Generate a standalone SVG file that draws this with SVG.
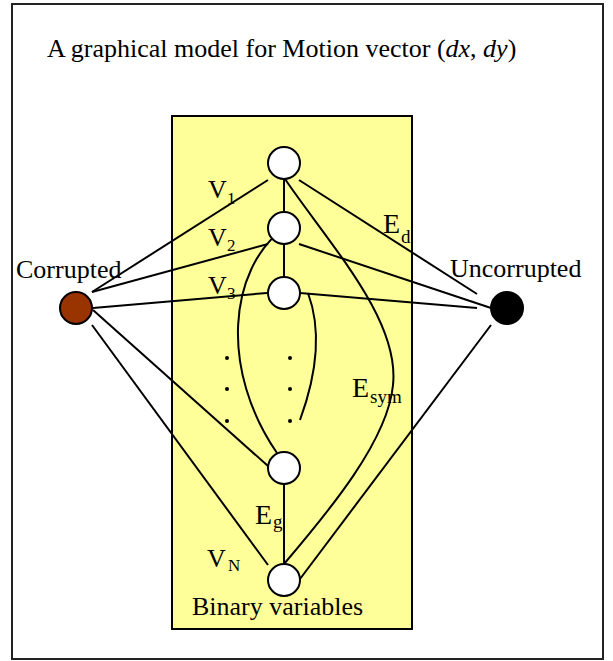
<svg xmlns="http://www.w3.org/2000/svg" width="613" height="661" viewBox="0 0 613 661">
<style>
text{font-family:"Liberation Serif","Times New Roman",serif;fill:#000;}
.t{font-size:26px;}
.s{font-size:17px;}
.e{stroke:#000;stroke-width:2;fill:none;}
.v{fill:#fff;stroke:#000;stroke-width:2;}
</style>
<rect x="12" y="4" width="591" height="655" fill="#fff" stroke="#222" stroke-width="2"/>
<text class="t" x="47" y="57">A graphical model for Motion vector (<tspan font-style="italic">dx</tspan>, <tspan font-style="italic">dy</tspan>)</text>
<rect x="172" y="116" width="240" height="513" fill="#FFFF99" stroke="#000" stroke-width="2"/>
<g id="connectors" class="e">
<line x1="92" y1="292" x2="268" y2="180"/>
<line x1="92" y1="292" x2="268" y2="244"/>
<line x1="93" y1="308" x2="267" y2="293"/>
<line x1="93" y1="310" x2="268" y2="466"/>
<line x1="92" y1="325" x2="268" y2="565"/>
<line x1="299" y1="180" x2="477" y2="294"/>
<line x1="299" y1="244" x2="491" y2="308"/>
<line x1="300" y1="293" x2="477" y2="308"/>
<line x1="491" y1="325" x2="300" y2="579"/>
<line x1="284" y1="179" x2="284" y2="212"/>
<line x1="284" y1="244" x2="284" y2="277"/>
<line x1="284" y1="484" x2="284" y2="564"/>
<path d="M284,228 C228,270 220,370 277,453"/>
<path d="M308,293 C318,320 322,360 300,420"/>
<path d="M285,179 C330,245 400,320 393,385 C388,440 330,510 284,564"/>
</g>
<g id="dots" fill="#000">
<circle cx="227" cy="358" r="2"/><circle cx="227" cy="389" r="2"/><circle cx="227" cy="421" r="2"/>
<circle cx="290" cy="358" r="2"/><circle cx="290" cy="389" r="2"/><circle cx="290" cy="421" r="2"/>
</g>
<g id="v1"><circle class="v" cx="284" cy="163" r="16"/></g>
<g id="v2"><circle class="v" cx="284" cy="228" r="16"/></g>
<g id="v3"><circle class="v" cx="284" cy="293" r="16"/></g>
<g id="v4"><circle class="v" cx="284" cy="468" r="16"/></g>
<g id="vN"><circle class="v" cx="284" cy="580" r="16"/></g>
<g id="corrupted"><circle cx="76" cy="308" r="16" fill="#993300" stroke="#000" stroke-width="2"/><text class="t" x="16" y="278">Corrupted</text></g>
<g id="uncorrupted"><circle cx="507" cy="308" r="16" fill="#000" stroke="#000" stroke-width="2"/><text class="t" x="450" y="277">Uncorrupted</text></g>
<g id="labels">
<text class="t" x="208" y="198">V</text><text class="s" x="227" y="204">1</text>
<text class="t" x="208" y="246">V</text><text class="s" x="227" y="251">2</text>
<text class="t" x="208" y="294">V</text><text class="s" x="227" y="299">3</text>
<text class="t" x="207" y="567">V</text><text class="s" x="228" y="571">N</text>
<text class="t" x="383" y="233" style="font-size:28px">E</text><text class="s" x="401" y="243" style="font-size:19px">d</text>
<text class="t" x="352" y="397" style="font-size:28px">E</text><text class="s" x="370" y="403" style="font-size:19px">sym</text>
<text class="t" x="255" y="524" style="font-size:28px">E</text><text class="s" x="273" y="528" style="font-size:19px">g</text>
<text class="t" x="192" y="615">Binary variables</text>
</g>
</svg>
